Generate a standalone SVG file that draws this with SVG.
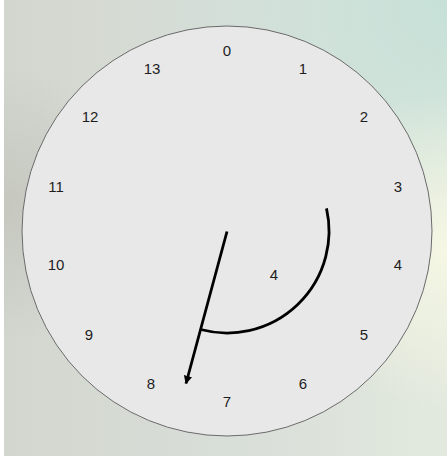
<svg xmlns="http://www.w3.org/2000/svg" width="447" height="459" viewBox="0 0 447 459">
<defs>
<linearGradient id="bg" x1="0" y1="0" x2="1" y2="0">
<stop offset="0" stop-color="#d2d6ce"/>
<stop offset="0.5" stop-color="#d8ded8"/>
<stop offset="1" stop-color="#e2e9de"/>
</linearGradient>
<radialGradient id="tr" cx="1" cy="0" r="0.7">
<stop offset="0" stop-color="#c6e0d8" stop-opacity="1"/>
<stop offset="1" stop-color="#c6e0d8" stop-opacity="0"/>
</radialGradient>
<radialGradient id="mr" cx="1" cy="0.55" r="0.35">
<stop offset="0" stop-color="#f6f7e4" stop-opacity="1"/>
<stop offset="1" stop-color="#f6f7e4" stop-opacity="0"/>
</radialGradient>
<radialGradient id="ml" cx="0" cy="0.45" r="0.3">
<stop offset="0" stop-color="#c6c8c0" stop-opacity="1"/>
<stop offset="1" stop-color="#c6c8c0" stop-opacity="0"/>
</radialGradient>
<marker id="ah" viewBox="0 0 10 10" refX="9" refY="5" markerWidth="3.2" markerHeight="3" orient="auto" markerUnits="strokeWidth">
<path d="M0,0 L10,5 L0,10 z" fill="#000"/>
</marker>
<style>
.lbl{font-family:"Liberation Sans",Arial,sans-serif;font-size:15px;fill:#1e1e1e;text-anchor:middle}
.con{fill:none;stroke:#000;stroke-width:2.8;stroke-linecap:butt}
</style>
</defs>
<rect x="0" y="0" width="447" height="459" fill="#ffffff"/>
<rect x="4" y="0" width="443" height="456" fill="url(#bg)"/>
<rect x="4" y="0" width="443" height="456" fill="url(#ml)"/>
<rect x="4" y="0" width="443" height="456" fill="url(#tr)"/>
<rect x="4" y="0" width="443" height="456" fill="url(#mr)"/>
<g id="dial">
<circle cx="227" cy="231" r="205" fill="#e8e8e8" stroke="#6a6a6a" stroke-width="1"/>
</g>
<g id="labels">
<text class="lbl" x="227" y="55.5">0</text>
<text class="lbl" x="303" y="73.5">1</text>
<text class="lbl" x="364" y="121.5">2</text>
<text class="lbl" x="398" y="191.5">3</text>
<text class="lbl" x="398" y="269.5">4</text>
<text class="lbl" x="364" y="339.5">5</text>
<text class="lbl" x="303" y="388.5">6</text>
<text class="lbl" x="227" y="406.5">7</text>
<text class="lbl" x="151" y="388.5">8</text>
<text class="lbl" x="89" y="339.5">9</text>
<text class="lbl" x="56" y="269.5">10</text>
<text class="lbl" x="56" y="191.5">11</text>
<text class="lbl" x="90" y="121.5">12</text>
<text class="lbl" x="152" y="73.5">13</text>
<text class="lbl" x="274" y="279.5">4</text>
</g>
<g id="connectors">
<path class="con" d="M326.5,208.4 A102,102 0 0 1 200.6,329.5"/>
<line class="con" x1="227" y1="231.5" x2="186" y2="383.5" marker-end="url(#ah)"/>
</g>
</svg>
